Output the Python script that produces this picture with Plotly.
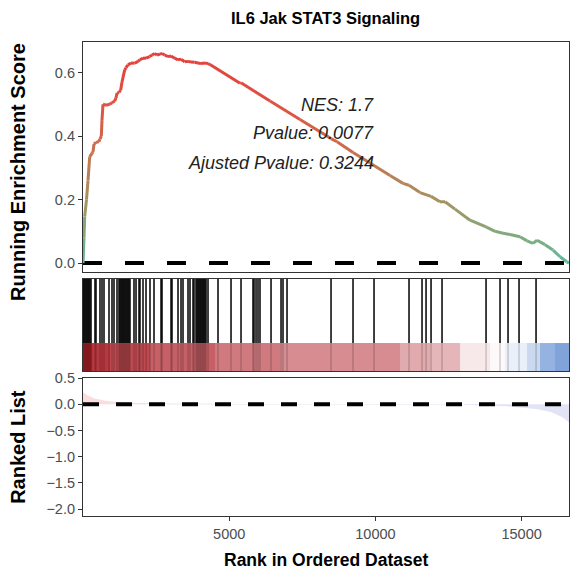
import plotly.graph_objects as go

# ---------------- data ----------------
N_GENES = 16620
chart_title = "IL6 Jak STAT3 Signaling"

hit_ranks = [1, 34, 68, 103, 137, 171, 205, 239, 274, 410, 445, 581, 650, 718, 889, 992,
             1060, 1163, 1231, 1265, 1300, 1334, 1368, 1402, 1436, 1470, 1505, 1539, 1573,
             1607, 1744, 1813, 1915, 1949, 2052, 2155, 2291, 2428, 2668, 2702, 3010, 3044,
             3249, 3352, 3420, 3591, 3659, 3762, 3796, 3865, 3899, 3933, 3967, 4001, 4035,
             4070, 4104, 4138, 4172, 4207, 4275, 4617, 5062, 5404, 5814, 5848, 5917, 5985,
             6053, 6430, 6772, 6840, 6977, 8482, 9234, 9952, 11149, 11594, 11731, 11902,
             12278, 13783, 14261, 14535, 14911, 15493]

es_rank = [1, 34, 58, 120, 171, 229, 308, 342, 376, 445, 537, 581, 626, 650, 684, 787, 913,
           992, 1084, 1129, 1163, 1231, 1289, 1334, 1426, 1470, 1539, 1642, 1768, 1881, 1949,
           2052, 2155, 2281, 2360, 2452, 2531, 2633, 2702, 2794, 2907, 3010, 3136, 3249, 3352,
           3478, 3591, 3694, 3820, 3933, 4035, 4172, 4275, 4343, 5369, 5404, 6395, 7421, 8482,
           8687, 9234, 9815, 10499, 10943, 11149, 11525, 11902, 12209, 12380, 12722, 13235,
           13783, 14090, 14364, 14603, 14945, 15185, 15390, 15527, 15800, 16074, 16313, 16543,
           16620]
es_value = [0.0, 0.08, 0.146, 0.20, 0.26, 0.335, 0.345, 0.35, 0.375, 0.38, 0.382, 0.39, 0.40,
            0.45, 0.50, 0.497, 0.50, 0.505, 0.51, 0.52, 0.535, 0.537, 0.545, 0.57, 0.608, 0.615,
            0.624, 0.63, 0.629, 0.635, 0.64, 0.645, 0.645, 0.65, 0.655, 0.66, 0.655, 0.658, 0.66,
            0.655, 0.65, 0.652, 0.645, 0.64, 0.642, 0.634, 0.635, 0.633, 0.632, 0.63, 0.628, 0.63,
            0.628, 0.625, 0.566, 0.568, 0.51, 0.452, 0.392, 0.382, 0.348, 0.315, 0.276, 0.251,
            0.245, 0.222, 0.21, 0.193, 0.193, 0.17, 0.135, 0.114, 0.100, 0.094, 0.09, 0.083,
            0.07, 0.062, 0.072, 0.058, 0.041, 0.02, 0.004, 0.0]

metric_rank = [1, 150, 400, 800, 1500, 3000, 6000, 10000, 13000, 14500, 15500, 16000, 16400, 16620]
metric_value = [0.23, 0.17, 0.11, 0.06, 0.03, 0.015, 0.005, 0.0, -0.01, -0.04, -0.09, -0.15, -0.25, -0.35]

band_edges = [1, 308, 923, 2290, 4515, 6737, 10840, 11868, 12894, 13920, 14432, 15185, 15630, 16143, 16620]
band_values = [1.0, 0.9, 0.82, 0.72, 0.6, 0.52, 0.38, 0.33, 0.1, 0.03, -0.12, -0.3, -0.6, -0.72]

stat_lines = ["NES: 1.7", "Pvalue: 0.0077", "Ajusted Pvalue: 0.3244"]
stat_y = [0.498, 0.408, 0.315]

y1_ticks = [0.0, 0.2, 0.4, 0.6]
y3_ticks = [0.5, 0.0, -0.5, -1.0, -1.5, -2.0]
x_ticks = [5000, 10000, 15000]

# ---------------- styling helpers ----------------
FONT = "Liberation Sans, Arial, sans-serif"
grad_stops = [(0.00, (93, 185, 155)), (0.10, (134, 167, 122)), (0.20, (165, 146, 94)),
              (0.30, (192, 122, 82)), (0.40, (210, 101, 73)), (0.50, (222, 82, 66)),
              (0.66, (229, 62, 58))]


def es_color(v):
    if v <= grad_stops[0][0]:
        c = grad_stops[0][1]
    elif v >= grad_stops[-1][0]:
        c = grad_stops[-1][1]
    else:
        for (a, ca), (b, cb) in zip(grad_stops[:-1], grad_stops[1:]):
            if a <= v <= b:
                t = (v - a) / (b - a)
                c = tuple(ca[i] + (cb[i] - ca[i]) * t for i in range(3))
                break
    return "rgb(%d,%d,%d)" % tuple(int(round(x)) for x in c)


fig = go.Figure()

# ---- top panel: running enrichment score ----
fig.add_trace(go.Scatter(x=[0, N_GENES], y=[0, 0], mode="lines", xaxis="x", yaxis="y",
                         line=dict(color="black", width=4, dash="19px,23px"),
                         hoverinfo="skip", showlegend=False))
for i in range(len(es_rank) - 1):
    v = (es_value[i] + es_value[i + 1]) / 2
    fig.add_trace(go.Scatter(x=[es_rank[i], es_rank[i + 1]], y=[es_value[i], es_value[i + 1]],
                             mode="lines", xaxis="x", yaxis="y",
                             line=dict(color=es_color(v), width=3),
                             hoverinfo="skip", showlegend=False))

# ---- middle panel: hits + rank band ----
BAND_TOP = 0.304
fig.add_trace(go.Heatmap(x=band_edges, y=[0, BAND_TOP], z=[band_values], xaxis="x2", yaxis="y2",
                         zmin=-1, zmax=1, showscale=False, hoverinfo="skip",
                         colorscale=[[0, "#4F80CC"], [0.5, "#FFFFFF"], [1, "#B0222A"]]))
hx, hy, bx, by = [], [], [], []
for r in hit_ranks:
    hx += [r, r, None]
    hy += [BAND_TOP, 1, None]
    bx += [r, r, None]
    by += [0, BAND_TOP, None]
fig.add_trace(go.Scatter(x=hx, y=hy, mode="lines", xaxis="x2", yaxis="y2",
                         line=dict(color="black", width=1.5), hoverinfo="skip", showlegend=False))
fig.add_trace(go.Scatter(x=bx, y=by, mode="lines", xaxis="x2", yaxis="y2",
                         line=dict(color="rgba(0,0,0,0.18)", width=1.5), hoverinfo="skip",
                         showlegend=False))

# ---- bottom panel: ranked list ----
pos_v = [max(v, 0) for v in metric_value]
neg_v = [min(v, 0) for v in metric_value]
fig.add_trace(go.Scatter(x=metric_rank, y=pos_v, mode="lines", fill="tozeroy", xaxis="x3", yaxis="y3",
                         line=dict(width=0, color="rgba(0,0,0,0)"), fillcolor="rgba(245,170,170,0.4)",
                         hoverinfo="skip", showlegend=False))
fig.add_trace(go.Scatter(x=metric_rank, y=neg_v, mode="lines", fill="tozeroy", xaxis="x3", yaxis="y3",
                         line=dict(width=0, color="rgba(0,0,0,0)"), fillcolor="rgba(190,195,235,0.45)",
                         hoverinfo="skip", showlegend=False))
fig.add_trace(go.Scatter(x=[0, N_GENES], y=[0, 0], mode="lines", xaxis="x3", yaxis="y3",
                         line=dict(color="black", width=4, dash="16px,17px"),
                         hoverinfo="skip", showlegend=False))

# ---------------- layout ----------------
axis_common = dict(showgrid=False, zeroline=False, showline=True, mirror=True,
                   linecolor="#333333", linewidth=1.2)
tickfont = dict(family=FONT, size=14.5, color="#4D4D4D")

annotations = []
for txt, yv in zip(stat_lines, stat_y):
    annotations.append(dict(text="<i>%s</i>" % txt, x=10020, y=yv, xref="x", yref="y",
                            xanchor="right", yanchor="middle", showarrow=False,
                            font=dict(family=FONT, size=18, color="#222222")))
annotations += [
    dict(text="<b>%s</b>" % chart_title, x=0.498, y=1.0506, xref="paper", yref="paper",
         xanchor="center", yanchor="middle", showarrow=False,
         font=dict(family=FONT, size=16.5, color="black")),
    dict(text="<b>Running Enrichment Score</b>", x=-0.134, y=0.7257, xref="paper", yref="paper",
         xanchor="center", yanchor="middle", textangle=-90, showarrow=False,
         font=dict(family=FONT, size=20, color="black")),
    dict(text="<b>Ranked List</b>", x=-0.134, y=0.1456, xref="paper", yref="paper",
         xanchor="center", yanchor="middle", textangle=-90, showarrow=False,
         font=dict(family=FONT, size=20, color="black")),
    dict(text="<b>Rank in Ordered Dataset</b>", x=0.5, y=-0.0928, xref="paper", yref="paper",
         xanchor="center", yanchor="middle", showarrow=False,
         font=dict(family=FONT, size=17.5, color="black")),
]

fig.update_layout(
    width=570, height=576,
    margin=dict(l=83, r=1, t=42, b=60),
    paper_bgcolor="white", plot_bgcolor="white",
    showlegend=False,
    xaxis=dict(domain=[0, 1], range=[0, N_GENES], anchor="y", showticklabels=False, ticks="",
               **axis_common),
    yaxis=dict(domain=[0.5148, 1], range=[-0.028, 0.696], anchor="x", tickvals=y1_ticks,
               ticktext=["%.1f" % v for v in y1_ticks], ticks="outside", ticklen=4,
               tickcolor="#333333", tickfont=tickfont, **axis_common),
    xaxis2=dict(domain=[0, 1], range=[0, N_GENES], anchor="y2", showticklabels=False, ticks="",
                **axis_common),
    yaxis2=dict(domain=[0.3059, 0.5], range=[0, 1], anchor="x2", showticklabels=False, ticks="",
                **axis_common),
    xaxis3=dict(domain=[0, 1], range=[0, N_GENES], anchor="y3", tickvals=x_ticks,
                ticktext=[str(v) for v in x_ticks], ticks="outside", ticklen=4,
                tickcolor="#333333", tickfont=tickfont, **axis_common),
    yaxis3=dict(domain=[0, 0.2911], range=[-2.13, 0.5], anchor="x3", tickvals=y3_ticks,
                ticktext=[("%.1f" % v).replace("-", "\u2212") for v in y3_ticks],
                ticks="outside", ticklen=4, tickcolor="#333333", tickfont=tickfont,
                **axis_common),
    annotations=annotations,
)

# remove the default 8px body margin so the 570x576 figure fills the window exactly
fig.write_html("out.html", config={"displayModeBar": False},
               post_script="document.body.style.margin='0';document.body.style.overflow='hidden';")
